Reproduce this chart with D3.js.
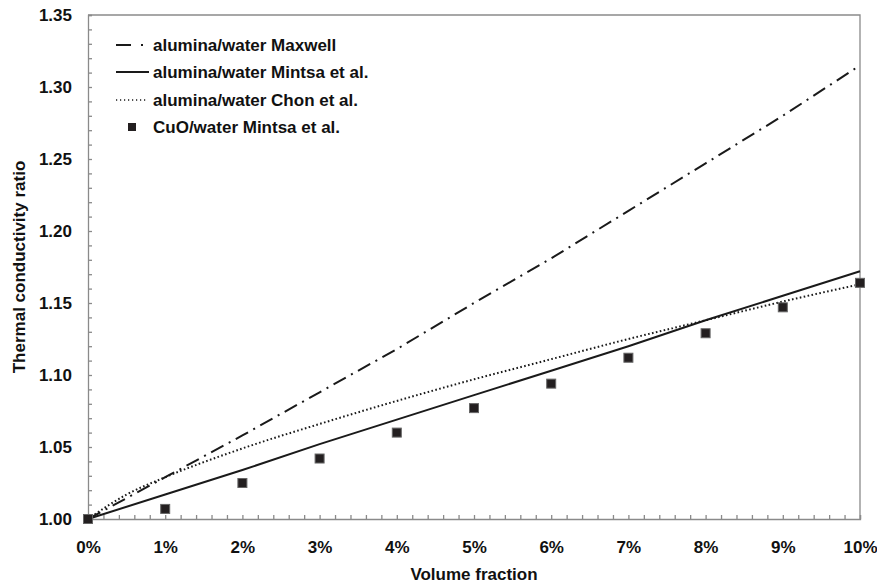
<!DOCTYPE html>
<html>
<head>
<meta charset="utf-8">
<script src="https://cdn.jsdelivr.net/npm/d3@7"></script>
<style>
  body { margin: 0; background: #fff; }
  text { font-family: "Liberation Sans", Arial, sans-serif; font-weight: bold; fill: #111; }
</style>
</head>
<body>
<div id="chart"></div>
<script>
// volume fraction (%) for the model curves and measured points
const fractions = [0, 1, 2, 3, 4, 5, 6, 7, 8, 9, 10];
const maxwell = [1.000, 1.029, 1.058, 1.088, 1.118, 1.150, 1.181, 1.214, 1.247, 1.280, 1.315];
const mintsaAlumina = [1.000, 1.017, 1.034, 1.052, 1.069, 1.086, 1.103, 1.120, 1.138, 1.155, 1.172];
const chonFractions = [0, 0.5, 1, 2, 3, 4, 5, 6, 7, 8, 9, 10];
const chon = [1.000, 1.017, 1.029, 1.049, 1.066, 1.082, 1.097, 1.111, 1.125, 1.138, 1.151, 1.163];
const cuoMintsa = [1.000, 1.007, 1.025, 1.042, 1.060, 1.077, 1.094, 1.112, 1.129, 1.147, 1.164];
const xTicks = [0, 1, 2, 3, 4, 5, 6, 7, 8, 9, 10];
const yTicks = [1.00, 1.05, 1.10, 1.15, 1.20, 1.25, 1.30, 1.35];
const legendLabels = ["alumina/water Maxwell", "alumina/water Mintsa et al.", "alumina/water Chon et al.", "CuO/water Mintsa et al."];

const width = 877, height = 583;
const margin = {top: 15, right: 17, bottom: 64, left: 88};

const svg = d3.select("#chart").append("svg")
  .attr("width", width)
  .attr("height", height);

const x = d3.scaleLinear().domain([0, 10]).range([margin.left, width - margin.right]);
const y = d3.scaleLinear().domain([1.0, 1.35]).range([height - margin.bottom, margin.top]);

const axisColor = "#8a8a8a";
const ink = "#1a1a1a";

// plot frame (top and right edges)
svg.append("path")
  .attr("d", `M${x(0)},${y(1.35)}H${x(10)}V${y(1.0)}`)
  .attr("fill", "none")
  .attr("stroke", axisColor)
  .attr("stroke-width", 1.3);

// minor ticks pointing into the plot
const gxTicks = svg.append("g")
  .attr("transform", `translate(0,${y(1.0)})`)
  .call(d3.axisBottom(x).tickValues(d3.range(0, 10.01, 0.2)).tickSize(-4).tickFormat(""));
const gyTicks = svg.append("g")
  .attr("transform", `translate(${x(0)},0)`)
  .call(d3.axisLeft(y).tickValues(d3.range(1.0, 1.351, 0.01)).tickSize(-4).tickFormat(""));
[gxTicks, gyTicks].forEach(g => {
  g.selectAll("path, line").attr("stroke", axisColor).attr("stroke-width", 1.3);
});

// tick labels
const gxLab = svg.append("g")
  .attr("transform", `translate(0,${y(1.0)})`)
  .call(d3.axisBottom(x).tickValues(xTicks).tickSize(0).tickPadding(22).tickFormat(d => d + "%"));
const gyLab = svg.append("g")
  .attr("transform", `translate(${x(0)},0)`)
  .call(d3.axisLeft(y).tickValues(yTicks).tickSize(0).tickPadding(16).tickFormat(d3.format(".2f")));
[gxLab, gyLab].forEach(g => {
  g.select(".domain").remove();
  g.selectAll("text").style("font-size", "17px").style("font-family", "Liberation Sans, Arial, sans-serif").style("font-weight", "bold").attr("fill", "#111");
});

// axis titles
svg.append("text")
  .attr("x", (x(0) + x(10)) / 2)
  .attr("y", 580)
  .attr("text-anchor", "middle")
  .style("font-size", "17px")
  .text("Volume fraction");
svg.append("text")
  .attr("transform", `translate(25,${(y(1.0) + y(1.35)) / 2}) rotate(-90)`)
  .attr("text-anchor", "middle")
  .style("font-size", "17px")
  .text("Thermal conductivity ratio");

// series lines
const line = d3.line().x(d => x(d[0])).y(d => y(d[1]));
const smooth = d3.line().curve(d3.curveMonotoneX).x(d => x(d[0])).y(d => y(d[1]));

svg.append("path")
  .datum(fractions.map((f, i) => [f, maxwell[i]]))
  .attr("d", line)
  .attr("fill", "none").attr("stroke", ink)
  .attr("stroke-width", 2)
  .attr("stroke-dasharray", "14,6,2,6");

svg.append("path")
  .datum(fractions.map((f, i) => [f, mintsaAlumina[i]]))
  .attr("d", line)
  .attr("fill", "none").attr("stroke", ink)
  .attr("stroke-width", 2);

svg.append("path")
  .datum(chonFractions.map((f, i) => [f, chon[i]]))
  .attr("d", smooth)
  .attr("fill", "none").attr("stroke", ink)
  .attr("stroke-width", 2)
  .attr("stroke-dasharray", "1.6,2.4");

// CuO measured points
const sq = 9;
svg.append("g").selectAll("rect")
  .data(fractions.map((f, i) => [f, cuoMintsa[i]]))
  .enter().append("rect")
    .attr("x", d => x(d[0]) - sq / 2)
    .attr("y", d => y(d[1]) - sq / 2)
    .attr("width", sq)
    .attr("height", sq)
    .attr("fill", "#231f20")
    .attr("stroke", "#666")
    .attr("stroke-width", 1);

// legend
const legend = svg.append("g");
const rowY = [45, 72, 100, 127];
legendLabels.forEach((label, i) => {
  const g = legend.append("g").attr("transform", `translate(0,${rowY[i]})`);
  if (i === 0) {
    g.append("line").attr("x1", 116).attr("x2", 131).attr("y1", 0).attr("y2", 0)
      .attr("stroke", ink).attr("stroke-width", 2);
    g.append("line").attr("x1", 141).attr("x2", 143).attr("y1", 0).attr("y2", 0)
      .attr("stroke", ink).attr("stroke-width", 2);
  } else if (i === 1) {
    g.append("line").attr("x1", 116).attr("x2", 149).attr("y1", 0).attr("y2", 0)
      .attr("stroke", ink).attr("stroke-width", 2);
  } else if (i === 2) {
    g.append("line").attr("x1", 116).attr("x2", 146).attr("y1", 0).attr("y2", 0)
      .attr("stroke", ink).attr("stroke-width", 1.5).attr("stroke-dasharray", "1.2,2.8");
  } else {
    g.append("rect").attr("x", 128).attr("y", -4).attr("width", 8).attr("height", 8)
      .attr("fill", "#231f20");
  }
  g.append("text")
    .attr("x", 153)
    .attr("y", 0)
    .attr("dy", "0.35em")
    .style("font-size", "17px")
    .text(label);
});
</script>
</body>
</html>
